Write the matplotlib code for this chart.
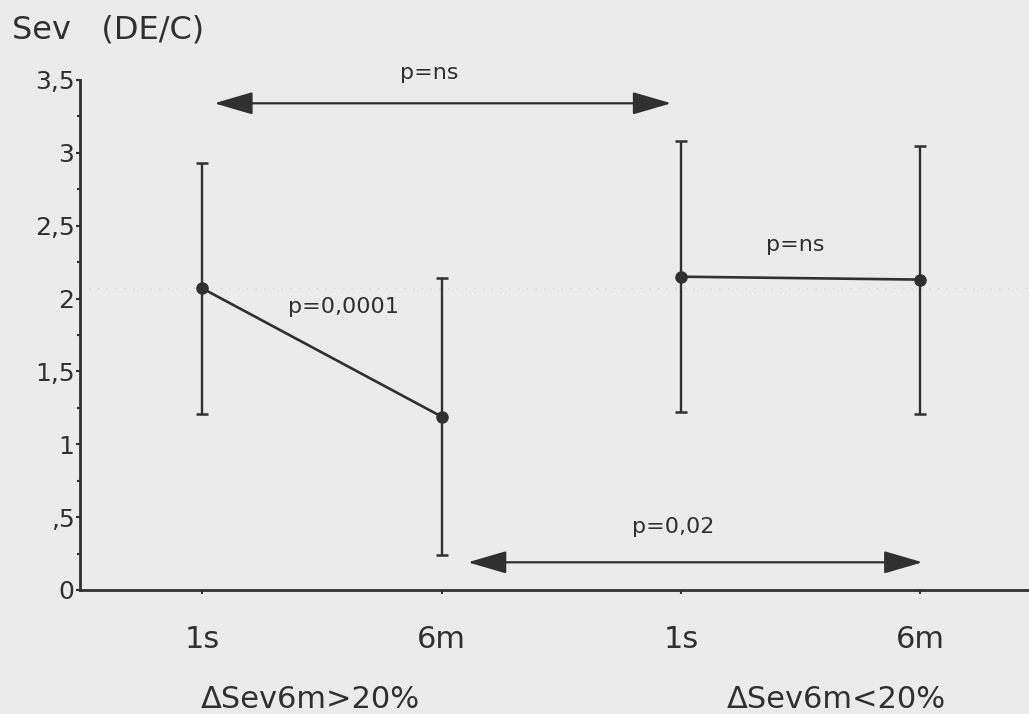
#!/usr/bin/env python3
"""Severity index (DE/C) at 1s and 6m, split by 6-month change group."""

import matplotlib

matplotlib.use("Agg")
import matplotlib.pyplot as plt

# Timepoints and group labels
positions = [1, 2, 3, 4]
tick_labels = ["1s", "6m", "1s", "6m"]
group_labels = ["\u0394Sev6m>20%", "\u0394Sev6m<20%"]
group_label_x = [1.45, 3.65]

# Group means and error bar half-widths
group1_mean = [2.07, 1.19]
group1_err = [0.86, 0.95]
group2_mean = [2.15, 2.13]
group2_err = [0.93, 0.92]

# Comparison arrows: (x_start, x_end, y) and p-value text (x, y, label)
comparisons = [(1.05, 2.96, 3.34), (2.11, 4.01, 0.19)]
p_texts = [
    (1.95, 3.55, "p=ns"),
    (1.59, 1.94, "p=0,0001"),
    (3.48, 2.37, "p=ns"),
    (2.97, 0.43, "p=0,02"),
]

y_ticks = [0, 0.5, 1, 1.5, 2, 2.5, 3, 3.5]
y_tick_labels = ["0", ",5", "1", "1,5", "2", "2,5", "3", "3,5"]

bg = "#ebebeb"
ink = "#303030"

fig = plt.figure(figsize=(10.29, 7.14), dpi=100, facecolor=bg)
ax = fig.add_axes([0.0777, 0.1737, 0.9223, 0.7143], facecolor=bg)

# faint dotted reference line running across the plot
ax.axhline(2.07, color="#cfcfcf", lw=0.9, ls=(0, (1, 6)), zorder=0)

for xs, means, errs in [
    (positions[:2], group1_mean, group1_err),
    (positions[2:], group2_mean, group2_err),
]:
    ax.errorbar(xs, means, yerr=errs, color=ink, lw=1.9, marker="o", markersize=8,
                capsize=4.5, capthick=1.8, elinewidth=1.7, zorder=3)

for x0, x1, y in comparisons:
    ax.annotate("", xy=(x1, y), xytext=(x0, y),
                arrowprops=dict(arrowstyle="<|-|>,head_length=1.2,head_width=0.35",
                                mutation_scale=20, lw=1.6, color=ink,
                                shrinkA=0, shrinkB=0),
                annotation_clip=False)

for x, y, label in p_texts:
    ax.text(x, y, label, ha="center", va="center", fontsize=16, color=ink,
            clip_on=False)

ax.set_xlim(0.489, 4.455)
ax.set_ylim(0, 3.5)

ax.set_xticks(positions)
ax.set_xticklabels(tick_labels, fontsize=22, color=ink)
ax.set_yticks(y_ticks)
ax.set_yticklabels(y_tick_labels, fontsize=18, color=ink)
ax.set_yticks([0.25, 0.75, 1.25, 1.75, 2.25, 2.75, 3.25], minor=True)
ax.tick_params(axis="x", length=3, width=1.5, color=ink, pad=22)
ax.tick_params(axis="y", which="major", length=3, width=1.5, color=ink, pad=1)
ax.tick_params(axis="y", which="minor", length=2, width=1.5, color=ink)

for side in ["top", "right"]:
    ax.spines[side].set_visible(False)
for side in ["left", "bottom"]:
    ax.spines[side].set_color(ink)
    ax.spines[side].set_linewidth(2)

for x, label in zip(group_label_x, group_labels):
    ax.text(x, -0.75, label, ha="center", va="center", fontsize=22, color=ink,
            clip_on=False)

fig.text(0.012, 0.958, "Sev   (DE/C)", ha="left", va="center", fontsize=23,
         color=ink)

fig.savefig("out.png", dpi=100, facecolor=bg)
